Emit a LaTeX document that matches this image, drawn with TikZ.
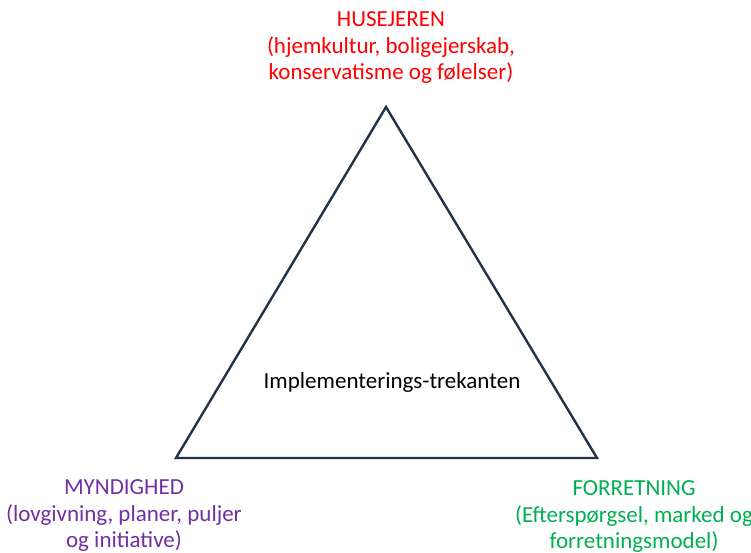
\documentclass[tikz,border=0pt]{standalone}
\usepackage{fontspec}
\setmainfont{Carlito}
\definecolor{husrod}{HTML}{FF0000}
\definecolor{myndlilla}{HTML}{7030A0}
\definecolor{forgron}{HTML}{00B050}
\definecolor{kantbla}{HTML}{223248}
\tikzset{
	hjorne/.style={align=center,font=\fontsize{23}{26.5}\selectfont,inner sep=0pt},
}
\begin{document}
\begin{tikzpicture}[x=1pt,y=-1pt]
	\useasboundingbox (0,0) rectangle (751,553);
	\coordinate (top) at (386,107);
	\coordinate (venstre) at (176,458);
	\coordinate (hojre) at (597,458);
	\draw[kantbla,line width=2.4pt,line join=miter] (top)--(hojre)--(venstre)--cycle;
	\node[hjorne,text=husrod] (husejer) at (391,48) {HUSEJEREN\\(hjemkultur, boligejerskab,\\konservatisme og følelser)};
	\node[hjorne,text=myndlilla] (myndighed) at (124,516) {MYNDIGHED\\(lovgivning, planer, puljer\\og initiative)};
	\node[hjorne,text=forgron] (forretning) at (634,517) {FORRETNING\\(Efterspørgsel, marked og\\forretningsmodel)};
	\node[hjorne] (trekant) at (392,382) {Implementerings-trekanten};
\end{tikzpicture}
\end{document}
